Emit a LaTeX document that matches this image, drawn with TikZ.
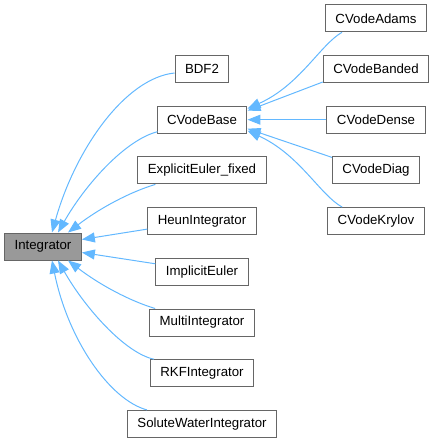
\documentclass[tikz,border=0pt]{standalone}
\usepackage{fontspec}
\setmainfont{Liberation Sans}
\usetikzlibrary{arrows.meta}
\definecolor{edgeblue}{HTML}{63B8FF}
\definecolor{boxline}{HTML}{666666}
\definecolor{rootfill}{HTML}{999999}
\begin{document}
\begin{tikzpicture}[x=1bp,y=-1bp,
  cls/.style={draw=boxline,line width=1bp,fill=white,rectangle,minimum height=27bp,inner xsep=10bp,inner ysep=0bp,font=\fontsize{13.3}{16}\selectfont,text=black},
  root/.style={cls,fill=rootfill},
  edge/.style={draw=edgeblue,line width=1bp,-{Triangle[length=13bp,width=10bp]}}]
\useasboundingbox (0,0) rectangle (434,443);
\node[root] (integ) at (43,246.5) {Integrator};
\node[cls] (bdf) at (202,69) {BDF2};
\node[cls] (cvb) at (202,119.7) {CVodeBase};
\node[cls] (ee) at (202,170.4) {ExplicitEuler\_fixed};
\node[cls] (heun) at (202,221.1) {HeunIntegrator};
\node[cls] (ie) at (202,271.8) {ImplicitEuler};
\node[cls] (mi) at (202,322.5) {MultiIntegrator};
\node[cls] (rkf) at (202,373.2) {RKFIntegrator};
\node[cls] (swi) at (202,423.9) {SoluteWaterIntegrator};
\node[cls] (ca) at (376,18.3) {CVodeAdams};
\node[cls] (cb) at (376,69) {CVodeBanded};
\node[cls] (cd) at (376,119.7) {CVodeDense};
\node[cls] (cdg) at (376,170.4) {CVodeDiag};
\node[cls] (ck) at (376,221.1) {CVodeKrylov};
% edges to Integrator
\draw[edge] ([yshift=-4bp]bdf.west) .. controls (125,78) and (75,150) .. ([xshift=9bp]integ.north);
\draw[edge] ([yshift=2bp,xshift=1bp]cvb.south west) .. controls (125,140) and (85,185) .. ([xshift=15bp]integ.north);
\draw[edge] ([xshift=18bp]ee.south west) .. controls (130,192) and (100,208) .. ([xshift=25bp]integ.north);
\draw[edge] ([yshift=-8bp]heun.west) -- ([yshift=7bp]integ.east);
\draw[edge] ([yshift=8bp]ie.west) -- ([yshift=-6bp]integ.east);
\draw[edge] ([xshift=6bp]mi.north west) .. controls (130,301) and (100,285) .. ([xshift=25bp]integ.south);
\draw[edge] ([xshift=4bp]rkf.north west) .. controls (125,353) and (85,308) .. ([xshift=15bp]integ.south);
\draw[edge] ([xshift=20bp]swi.north west) .. controls (110,400) and (68,340) .. ([xshift=9bp]integ.south);
% edges to CVodeBase
\draw[edge] ([xshift=17bp]ca.south west) .. controls (320,45) and (300,85) .. ([yshift=11bp]cvb.east);
\draw[edge] ([yshift=1bp]cb.south west) -- ([yshift=9bp]cvb.east);
\draw[edge] (cd.west) -- (cvb.east);
\draw[edge] ([yshift=-1bp]cdg.north west) -- ([yshift=-9bp]cvb.east);
\draw[edge] ([xshift=15bp]ck.north west) .. controls (320,195) and (300,155) .. ([yshift=-11bp]cvb.east);
\end{tikzpicture}
\end{document}
